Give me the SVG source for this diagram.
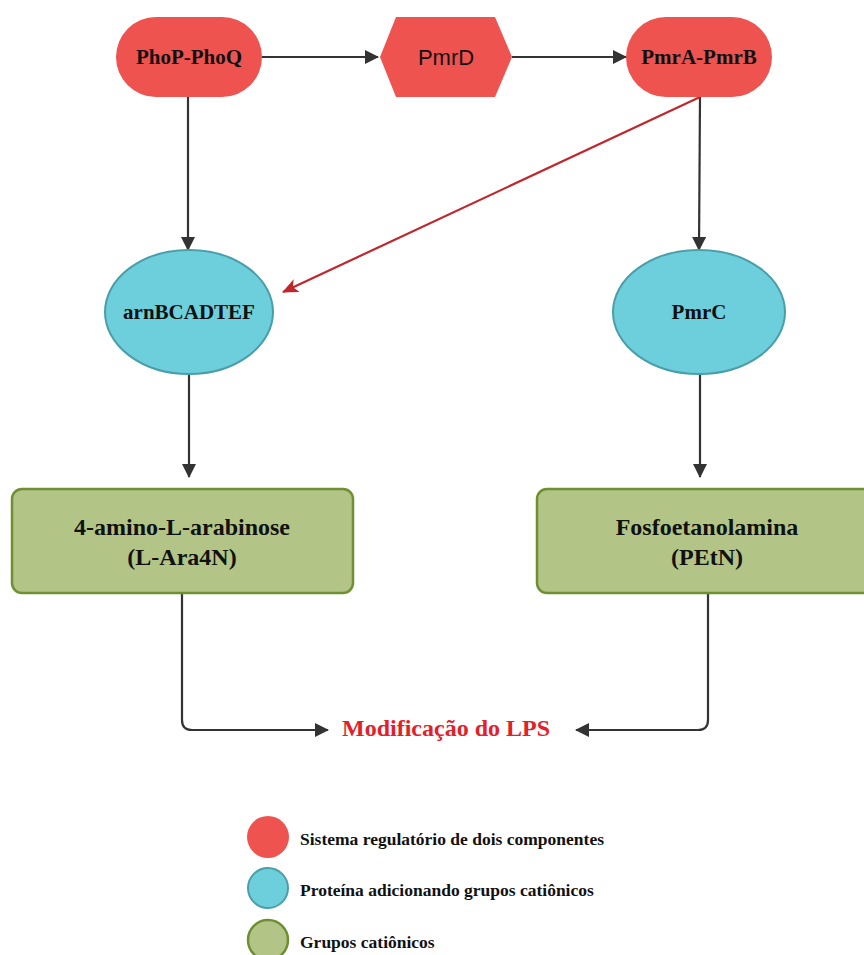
<svg xmlns="http://www.w3.org/2000/svg" width="864" height="955" viewBox="0 0 864 955">
<defs>
<marker id="ah" viewBox="0 0 14 14" refX="13" refY="7" markerWidth="14" markerHeight="14" markerUnits="userSpaceOnUse" orient="auto">
<path d="M0,0 L14,7 L0,14 Z" fill="#333"/>
</marker>
<marker id="ahr" viewBox="0 0 16 14" refX="15" refY="7" markerWidth="16" markerHeight="14" markerUnits="userSpaceOnUse" orient="auto">
<path d="M0,0 L16,7 L0,14 L4,7 Z" fill="#c0272d"/>
</marker>
<style>
.red{fill:#ef5350;}
.cyan{fill:#6dcfdb;stroke:#4a9eaa;stroke-width:2;}
.green{fill:#b2c587;stroke:#6f8f33;stroke-width:2.5;}
.lbl{font-family:"Liberation Serif",serif;font-weight:bold;font-size:21px;fill:#111;text-anchor:middle;}
.big{font-family:"Liberation Serif",serif;font-weight:bold;font-size:24px;fill:#111;text-anchor:middle;}
.leg{font-family:"Liberation Serif",serif;font-weight:bold;font-size:17.5px;fill:#111;}
.conn{fill:none;stroke:#333;stroke-width:2.2;}
</style>
</defs>
<rect width="864" height="955" fill="#fff"/>
<g id="connectors">
<line class="conn" x1="262" y1="57" x2="378" y2="57" marker-end="url(#ah)"/>
<line class="conn" x1="512" y1="57" x2="626" y2="57" marker-end="url(#ah)"/>
<line class="conn" x1="188" y1="97" x2="188" y2="250" marker-end="url(#ah)"/>
<line class="conn" x1="700" y1="97" x2="699" y2="250" marker-end="url(#ah)"/>
<line x1="700" y1="97" x2="283" y2="292" stroke="#c0272d" stroke-width="2.2" marker-end="url(#ahr)"/>
<line class="conn" x1="189" y1="374" x2="189" y2="477" marker-end="url(#ah)"/>
<line class="conn" x1="700" y1="374" x2="700" y2="477" marker-end="url(#ah)"/>
<path class="conn" d="M182,593 V720 Q182,730 192,730 H328" marker-end="url(#ah)"/>
<path class="conn" d="M708,593 V720 Q708,730 698,730 H576" marker-end="url(#ah)"/>
</g>
<g id="phop-phoq">
<rect class="red" x="116" y="17" width="146" height="80" rx="40" ry="40"/>
<text class="lbl" x="189" y="64">PhoP-PhoQ</text>
</g>
<g id="pmrd">
<polygon class="red" points="396,17 495,17 512,57 495,97 396,97 380,57"/>
<text x="446" y="65" font-family="Liberation Sans,Arial,sans-serif" font-size="22" fill="#111" text-anchor="middle">PmrD</text>
</g>
<g id="pmra-pmrb">
<rect class="red" x="626" y="17" width="146" height="80" rx="40" ry="40"/>
<text class="lbl" x="699" y="64">PmrA-PmrB</text>
</g>
<g id="arnbcadtef">
<ellipse class="cyan" cx="189" cy="312" rx="84" ry="62"/>
<text class="lbl" x="189" y="319">arnBCADTEF</text>
</g>
<g id="pmrc">
<ellipse class="cyan" cx="699" cy="312" rx="86" ry="62"/>
<text class="lbl" x="699" y="319">PmrC</text>
</g>
<g id="l-ara4n">
<rect class="green" x="12" y="489" width="341" height="104" rx="10" ry="10"/>
<text class="big" x="182" y="535">4-amino-L-arabinose</text>
<text class="big" x="182" y="565">(L-Ara4N)</text>
</g>
<g id="petn">
<rect class="green" x="537" y="489" width="340" height="104" rx="10" ry="10"/>
<text class="big" x="707" y="535">Fosfoetanolamina</text>
<text class="big" x="707" y="565">(PEtN)</text>
</g>
<g id="lps">
<text x="446" y="736" font-family="Liberation Serif,serif" font-weight="bold" font-size="24" fill="#e3202a" text-anchor="middle">Modificação do LPS</text>
</g>
<g id="legend">
<circle cx="268" cy="837" r="21" fill="#ef5350"/>
<text class="leg" x="300" y="845">Sistema regulatório de dois componentes</text>
<circle class="cyan" cx="268" cy="888" r="20" stroke-width="3"/>
<text class="leg" x="300" y="896">Proteína adicionando grupos catiônicos</text>
<circle class="green" cx="268" cy="940" r="20" stroke-width="3"/>
<text class="leg" x="300" y="948">Grupos catiônicos</text>
</g>
</svg>
